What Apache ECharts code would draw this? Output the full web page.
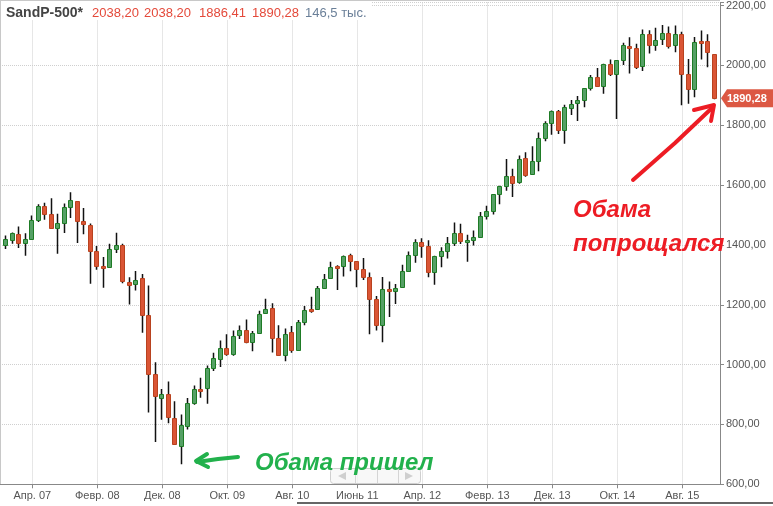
<!DOCTYPE html>
<html><head><meta charset="utf-8">
<script src="https://cdn.jsdelivr.net/npm/echarts@6/dist/echarts.min.js"></script>
<style>html,body{margin:0;padding:0;background:#fff}#c{width:773px;height:506px}</style>
</head><body><div id="c"></div><script>
// first month shown: December 2006, monthly candles through January 2016
const firstMonth = [2006, 12];
const opens = [1400.63,
 1418.03,1437.90,1406.80,1420.83,1482.37,1530.62,1504.66,1455.18,1473.96,1527.29,1545.79,1479.63,
 1467.97,1378.60,1330.45,1326.41,1385.97,1399.62,1276.69,1269.42,1287.83,1164.17,968.67,888.61,
 902.99,823.09,729.57,793.59,872.74,919.96,920.82,990.22,1019.52,1054.91,1036.18,1098.89,
 1116.56,1073.89,1105.36,1171.23,1188.58,1087.30,1031.10,1107.53,1049.72,1143.49,1185.71,1186.60,
 1257.62,1289.14,1328.64,1329.48,1365.21,1345.20,1320.64,1292.59,1219.12,1131.21,1251.00,1246.91,
 1258.86,1312.45,1365.90,1408.47,1397.86,1309.87,1362.33,1379.32,1406.54,1440.90,1412.20,1416.18,
 1426.19,1498.11,1514.68,1569.18,1597.55,1631.71,1609.78,1689.42,1635.95,1681.34,1758.70,1806.55,
 1845.86,1782.68,1857.68,1873.96,1884.39,1923.87,1962.29,1929.80,2004.07,1971.44,2018.21,2065.78,
 2058.90,1996.67,2105.23,2067.63,2087.38,2108.64,2067.00,2104.49,1970.09,1919.65,2080.76,2082.93,
 2038.20];
const highs = [1431.81,
 1441.61,1461.57,1438.89,1498.02,1535.56,1540.56,1555.90,1503.89,1538.74,1576.09,1545.79,1523.57,
 1471.77,1396.02,1359.68,1404.05,1440.24,1404.05,1292.17,1313.15,1303.04,1264.12,1007.51,918.85,
 943.85,877.86,832.98,888.70,930.17,956.23,996.68,1039.47,1080.15,1101.36,1113.69,1130.38,
 1150.45,1112.42,1180.16,1219.80,1205.13,1131.23,1120.95,1129.24,1148.67,1196.14,1227.08,1262.60,
 1302.67,1344.07,1332.28,1364.56,1370.58,1345.20,1356.48,1307.38,1229.29,1292.66,1277.55,1269.37,
 1333.47,1378.04,1419.15,1422.38,1415.32,1363.46,1391.74,1426.68,1474.51,1470.96,1434.27,1448.00,
 1509.94,1530.94,1570.28,1597.57,1687.18,1654.19,1698.78,1709.67,1729.86,1775.22,1813.55,1849.44,
 1850.84,1867.92,1883.97,1897.28,1924.03,1968.17,1991.39,2005.04,2019.26,2018.19,2075.76,2093.55,
 2072.36,2119.59,2117.52,2125.92,2134.72,2129.87,2132.82,2112.66,2020.86,2094.32,2116.48,2104.27,
 2038.20];
const lows = [1385.93,
 1403.97,1389.42,1363.98,1416.37,1476.70,1484.18,1454.25,1370.60,1439.45,1489.56,1406.10,1435.65,
 1270.05,1316.75,1256.98,1324.35,1373.07,1272.00,1200.44,1247.45,1106.42,839.80,741.02,815.69,
 804.30,734.52,666.79,783.32,866.10,888.86,869.32,978.51,991.97,1029.38,1029.38,1085.89,
 1071.59,1044.50,1105.36,1170.69,1040.78,1028.33,1010.91,1039.70,1049.72,1131.87,1173.00,1186.60,
 1257.62,1289.14,1249.05,1294.70,1311.80,1258.07,1282.86,1101.54,1114.22,1074.77,1158.66,1202.37,
 1258.86,1312.45,1340.03,1357.38,1291.98,1266.74,1325.41,1354.65,1396.56,1403.28,1343.35,1398.11,
 1426.19,1485.01,1501.48,1536.03,1581.28,1560.33,1604.57,1627.47,1633.41,1646.47,1746.20,1767.99,
 1770.45,1737.92,1834.44,1814.36,1859.79,1915.98,1930.67,1904.78,1964.04,1820.66,2001.01,1972.56,
 1988.12,1980.90,2039.69,2048.38,2067.93,2056.32,2044.02,1867.01,1871.91,1893.70,2019.39,1993.26,
 1886.41];
const closes = [1418.30,
 1438.24,1406.82,1420.86,1482.37,1530.62,1503.35,1455.27,1473.99,1526.75,1549.38,1481.14,1468.36,
 1378.55,1330.63,1322.70,1385.59,1400.38,1280.00,1267.38,1282.83,1166.36,968.75,896.24,903.25,
 825.88,735.09,797.87,872.81,919.14,919.32,987.48,1020.62,1057.08,1036.19,1095.63,1115.10,
 1073.87,1104.49,1169.43,1186.69,1089.41,1030.71,1101.60,1049.33,1141.20,1183.26,1180.55,1257.64,
 1286.12,1327.22,1325.83,1363.61,1345.20,1320.64,1292.28,1218.89,1131.42,1253.30,1246.96,1257.60,
 1312.41,1365.68,1408.47,1397.91,1310.33,1362.16,1379.32,1406.58,1440.67,1412.16,1416.18,1426.19,
 1498.11,1514.68,1569.19,1597.57,1630.74,1606.28,1685.73,1632.97,1681.55,1756.54,1805.81,1848.36,
 1782.59,1859.45,1872.34,1883.95,1923.57,1960.23,1930.67,2003.37,1972.29,2018.05,2067.56,2058.90,
 1994.99,2104.50,2067.89,2085.51,2107.39,2063.11,2103.84,1972.18,1920.03,2079.36,2080.41,2043.94,
 1890.28];
const tickMonths = ['2007-04','2008-02','2008-12','2009-10','2010-08','2011-06','2012-04','2013-02','2013-12','2014-10','2015-08'];
const tickLabels = ['Апр. 07','Февр. 08','Дек. 08','Окт. 09','Авг. 10','Июнь 11','Апр. 12','Февр. 13','Дек. 13','Окт. 14','Авг. 15'];
const tickerName = 'SandP-500*';
const volumeText = '146,5 тыс.';
const noteIn = 'Обама пришел';
const noteOut = ['Обама', 'попрощался'];

const months = [];
for (let i = 0; i < closes.length; i++) {
  const m0 = firstMonth[1] - 1 + i;
  months.push((firstMonth[0] + Math.floor(m0 / 12)) + '-' + String(m0 % 12 + 1).padStart(2, '0'));
}
const ohlc = months.map((m, i) => [i, opens[i], closes[i], lows[i], highs[i]]);
const tickIdx = tickMonths.map(m => months.indexOf(m));
const fmt = v => v.toFixed(2).replace('.', ',');

const FONT = '"Liberation Sans", Arial, sans-serif';
const GF = '#55a065', GB = '#1e7b25', RF = '#da5535', RB = '#b8421f';

const chart = echarts.init(document.getElementById('c'), null, {renderer: 'canvas'});
chart.setOption({
  animation: false,
  backgroundColor: '#fff',
  grid: {left: 0, right: 53, top: 0, bottom: 21.7},
  xAxis: {
    type: 'value', min: -0.97, max: 109.8,
    axisLine: {show: true, onZero: false, lineStyle: {color: '#888', width: 1}},
    axisTick: {show: true, customValues: tickIdx, length: 4, lineStyle: {color: '#888'}},
    axisLabel: {customValues: tickIdx, formatter: v => tickLabels[tickIdx.indexOf(v)] || '',
      color: '#555', fontSize: 11, fontFamily: FONT, margin: 6},
    splitLine: {show: true, lineStyle: {type: 'dotted', color: '#cfcfcf'}}
  },
  yAxis: {
    type: 'value', position: 'right', min: 600, max: 2210, interval: 200,
    axisLine: {show: true, onZero: false, lineStyle: {color: '#888'}},
    axisTick: {show: true, length: 4, lineStyle: {color: '#888'}},
    axisLabel: {formatter: v => (v % 200 === 0 ? fmt(v) : ''), color: '#555', fontSize: 11, fontFamily: FONT, margin: 6},
    splitLine: {show: true, lineStyle: {type: 'dotted', color: '#cfcfcf'}}
  },
  series: [{
    type: 'custom',
    clip: true,
    encode: {x: 0, y: [1, 2, 3, 4]},
    data: ohlc,
    renderItem: function (params, api) {
      const x = api.value(0), o = api.value(1), c = api.value(2), l = api.value(3), h = api.value(4);
      const pO = api.coord([x, o]), pC = api.coord([x, c]), pL = api.coord([x, l]), pH = api.coord([x, h]);
      const cx = Math.round(pO[0]);
      const up = c >= o;
      let top = Math.round(Math.min(pO[1], pC[1])) + 0.5;
      let bot = Math.round(Math.max(pO[1], pC[1])) + 0.5;
      if (bot - top < 2) bot = top + 2;
      return {type: 'group', children: [
        {type: 'line', shape: {x1: cx - 0.5, y1: pH[1], x2: cx - 0.5, y2: pL[1]}, style: {stroke: '#111', lineWidth: 1.5}},
        {type: 'rect', shape: {x: cx - 2.5, y: top, width: 4, height: bot - top},
          style: {fill: up ? GF : RF, stroke: up ? GB : RB, lineWidth: 1}}
      ]};
    }
  }]
});

const last = closes.length - 1;
const priceY = chart.convertToPixel({yAxisIndex: 0}, closes[last]);
const axisX = chart.convertToPixel({xAxisIndex: 0}, 109.8);
const headerVals = [opens[last], highs[last], lows[last], closes[last]].map(fmt);

chart.setOption({graphic: [
  {type: 'line', z: 50, shape: {x1: 0, y1: 0.5, x2: axisX, y2: 0.5}, style: {stroke: '#c8c8c8', lineWidth: 1}},
  {type: 'line', z: 50, shape: {x1: 0.5, y1: 0, x2: 0.5, y2: 484}, style: {stroke: '#c8c8c8', lineWidth: 1}},
  {type: 'rect', z: 50, shape: {x: 1, y: 1, width: 371, height: 19}, style: {fill: '#fff'}},
  {type: 'text', z: 51, style: {x: 6, y: 13, text: tickerName, font: 'bold 14px ' + FONT, fill: '#444', verticalAlign: 'middle'}},
  {type: 'text', z: 51, style: {x: 92, y: 13, text: headerVals[0], font: '13px ' + FONT, fill: '#e4493a', verticalAlign: 'middle'}},
  {type: 'text', z: 51, style: {x: 144, y: 13, text: headerVals[1], font: '13px ' + FONT, fill: '#e4493a', verticalAlign: 'middle'}},
  {type: 'text', z: 51, style: {x: 199, y: 13, text: headerVals[2], font: '13px ' + FONT, fill: '#e4493a', verticalAlign: 'middle'}},
  {type: 'text', z: 51, style: {x: 252, y: 13, text: headerVals[3], font: '13px ' + FONT, fill: '#e4493a', verticalAlign: 'middle'}},
  {type: 'text', z: 51, style: {x: 305, y: 13, text: volumeText, font: '13px ' + FONT, fill: '#6a7f98', verticalAlign: 'middle'}},
  // navigator widget + scrollbar edge
  {type: 'group', z: 40, children: [
    {type: 'rect', shape: {x: 330.5, y: 468.5, width: 90, height: 15, r: 3}, style: {fill: 'rgba(245,245,245,0.7)', stroke: '#cfcfcf', lineWidth: 1}},
    {type: 'line', shape: {x1: 355.5, y1: 469, x2: 355.5, y2: 483}, style: {stroke: '#d5d5d5'}},
    {type: 'line', shape: {x1: 377.5, y1: 469, x2: 377.5, y2: 483}, style: {stroke: '#d5d5d5'}},
    {type: 'line', shape: {x1: 398.5, y1: 469, x2: 398.5, y2: 483}, style: {stroke: '#d5d5d5'}},
    {type: 'polygon', shape: {points: [[338, 476], [346, 472], [346, 480]]}, style: {fill: '#cfcfcf'}},
    {type: 'polygon', shape: {points: [[413, 476], [405, 472], [405, 480]]}, style: {fill: '#cfcfcf'}}
  ]},
  {type: 'line', z: 40, shape: {x1: 297, y1: 503, x2: 773, y2: 503}, style: {stroke: '#666', lineWidth: 2}},
  // price tag
  {type: 'polygon', z: 60, shape: {points: [[axisX + 1, priceY], [axisX + 7, priceY - 9], [773, priceY - 9], [773, priceY + 9], [axisX + 7, priceY + 9]]}, style: {fill: '#dc5843'}},
  {type: 'text', z: 61, style: {x: axisX + 7, y: priceY + 0.5, text: fmt(closes[last]), font: 'bold 11px ' + FONT, fill: '#fff', verticalAlign: 'middle'}},
  // annotations
  {type: 'polyline', z: 70, shape: {points: [[238, 457], [218, 459], [197, 462]]}, style: {stroke: '#22b14c', lineWidth: 4, lineCap: 'round', lineJoin: 'round', fill: null}},
  {type: 'polyline', z: 70, shape: {points: [[207, 454], [196, 461], [208, 467]]}, style: {stroke: '#22b14c', lineWidth: 4, lineCap: 'round', lineJoin: 'round', fill: null}},
  {type: 'text', z: 70, style: {x: 255, y: 463.5, text: noteIn, font: 'italic bold 24px ' + FONT, fill: '#22b14c', verticalAlign: 'middle'}},
  {type: 'polyline', z: 70, shape: {points: [[633, 180], [675, 143], [713, 107]]}, style: {stroke: '#ed1c24', lineWidth: 4, lineCap: 'round', lineJoin: 'round', fill: null}},
  {type: 'polyline', z: 70, shape: {points: [[694, 110], [714, 105], [711, 121]]}, style: {stroke: '#ed1c24', lineWidth: 4, lineCap: 'round', lineJoin: 'round', fill: null}},
  {type: 'text', z: 70, style: {x: 573, y: 210.5, text: noteOut[0], font: 'italic bold 24px ' + FONT, fill: '#ed1c24', verticalAlign: 'middle'}},
  {type: 'text', z: 70, style: {x: 573, y: 244.5, text: noteOut[1], font: 'italic bold 24px ' + FONT, fill: '#ed1c24', verticalAlign: 'middle'}}
]});
</script></body></html>
